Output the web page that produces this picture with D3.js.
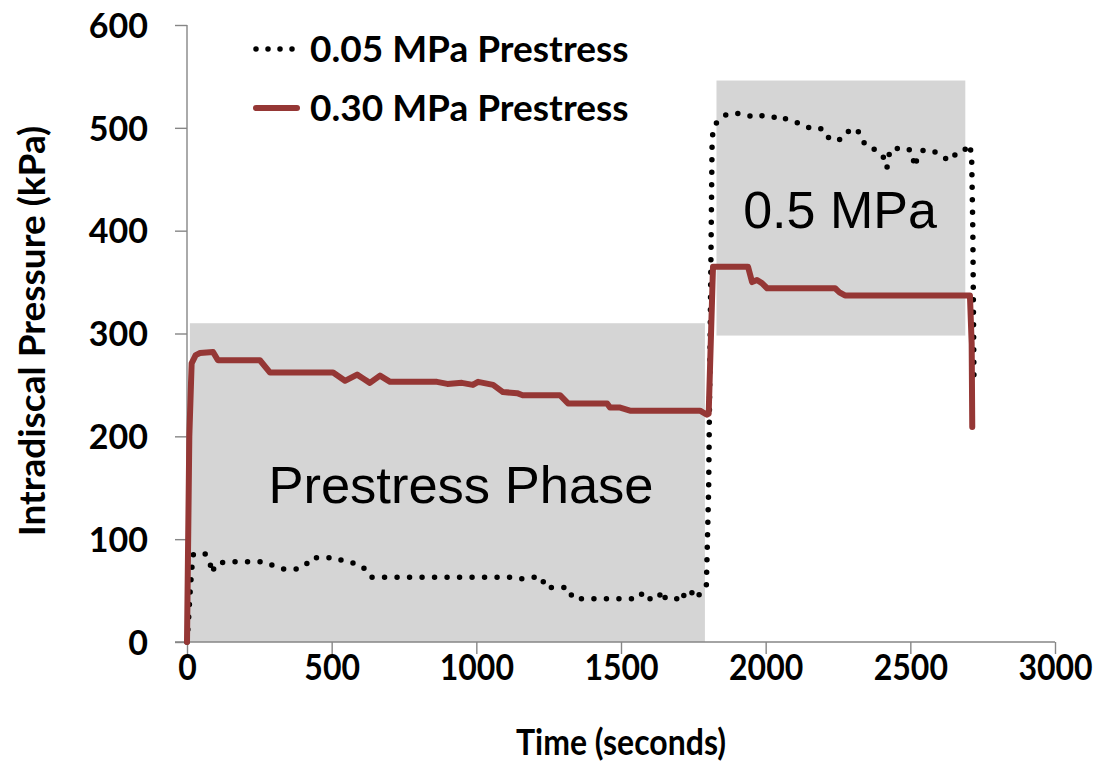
<!DOCTYPE html>
<html>
<head>
<meta charset="utf-8">
<script src="https://cdn.jsdelivr.net/npm/d3@7"></script>
<style>
  body { margin: 0; background: #fff; }
  .tickLabel, .axisTitle, .legendText { font-family: Lato, "Open Sans", sans-serif; font-weight: bold; fill: #000; }
  .phaseText { font-family: "Liberation Sans", Arial, sans-serif; fill: #000; }
</style>
</head>
<body>
<div id="chartContainer"></div>
<script>
// 0.05 MPa prestress run (time in s, pressure in kPa)
var time005 = [0, 5, 10, 16, 22, 28, 62, 79, 86, 100, 138, 270, 301, 332, 377, 408, 429, 515, 546, 591, 615, 636,
  1113, 1147, 1182, 1227, 1237, 1317, 1334, 1560, 1575, 1590, 1630, 1640, 1655, 1700, 1710, 1725, 1745, 1760, 1780,
  1795, 1803, 1810, 1815, 1825, 1846, 1873, 1918, 1953, 1970, 1991, 2025, 2050, 2067, 2091, 2126, 2157, 2198, 2215,
  2236, 2271, 2292, 2316, 2330, 2344, 2371, 2399, 2412, 2419, 2430, 2457, 2492, 2509, 2513, 2523, 2544, 2578, 2603,
  2637, 2661, 2682, 2706, 2712, 2716, 2720];
var kpa005 = [0, 20, 45, 70, 85, 86, 86, 78, 67, 76, 78, 78, 74, 71, 71, 74, 82, 82, 78, 76, 71, 63,
  63, 61, 63, 63, 53, 53, 42, 42, 48, 42, 42, 50, 42, 42, 48, 42, 48, 42, 50,
  55, 150, 350, 491, 503, 510, 514, 514, 511, 510, 512, 510, 512, 509, 506, 504, 499, 499, 491,
  487, 490, 499, 498, 492, 483, 480, 475, 469, 461, 479, 480, 480, 475, 462, 469, 478, 478, 473,
  468, 476, 477, 484, 470, 400, 252];

// 0.30 MPa prestress run
var time030 = [0, 8, 16, 30, 45, 90, 107, 252, 287, 505, 546, 588, 610, 632, 667, 702, 864, 900, 950, 988, 1006,
  1058, 1092, 1141, 1160, 1289, 1317, 1452, 1462, 1497, 1531, 1773, 1797, 1803, 1818, 1939, 1953, 1970, 1987, 2005,
  2240, 2255, 2274, 2706, 2712, 2714];
var kpa030 = [0, 200, 271, 279, 281, 282, 274, 274, 262, 262, 254, 260, 256, 252, 259, 253, 253, 251, 252, 250, 253,
  250, 243, 242, 240, 240, 232, 232, 228, 228, 225, 225, 221, 222, 365, 365, 350, 352, 349, 344,
  344, 340, 337, 337, 290, 209];

var seriesNames = ["0.05 MPa Prestress", "0.30 MPa Prestress"];

// shaded loading phases
var phaseNames = ["Prestress Phase", "0.5 MPa"];
var phaseStart = [10, 1830];
var phaseEnd = [1790, 2690];
var phaseLow = [0, 298];
var phaseHigh = [310, 546];

var xTicks = [0, 500, 1000, 1500, 2000, 2500, 3000];
var yTicks = [0, 100, 200, 300, 400, 500, 600];

var width = 1096, height = 765;
var axisColor = "#868686";
var redColor = "#953735";

var svg = d3.select("#chartContainer").append("svg")
  .attr("width", width).attr("height", height);

var x = d3.scaleLinear().domain([0, 3000]).range([187, 1055]);
var y = d3.scaleLinear().domain([0, 600]).range([642, 25]);

// gray phase boxes
svg.append("g").selectAll("rect").data(phaseNames).enter().append("rect")
  .attr("x", function(d, i) { return x(phaseStart[i]); })
  .attr("y", function(d, i) { return y(phaseHigh[i]); })
  .attr("width", function(d, i) { return x(phaseEnd[i]) - x(phaseStart[i]); })
  .attr("height", function(d, i) { return y(phaseLow[i]) - y(phaseHigh[i]); })
  .attr("fill", "#d5d5d5");

// phase labels
svg.append("text").attr("class", "phaseText")
  .attr("x", x(947)).attr("y", y(135))
  .attr("text-anchor", "middle").attr("font-size", "52.5px")
  .text(phaseNames[0]);
svg.append("text").attr("class", "phaseText")
  .attr("x", x(2257)).attr("y", y(403))
  .attr("text-anchor", "middle").attr("font-size", "52px")
  .text(phaseNames[1]);

// axes
var xAxis = d3.axisBottom(x).tickValues(xTicks).tickSize(12).tickFormat(d3.format("d"));
var yAxis = d3.axisLeft(y).tickValues(yTicks).tickSize(12).tickFormat(d3.format("d"));

var gx = svg.append("g").attr("transform", "translate(0," + y(0) + ")").call(xAxis);
var gy = svg.append("g").attr("transform", "translate(" + x(0) + ",0)").call(yAxis);

[gx, gy].forEach(function(g) {
  g.select(".domain").attr("stroke", axisColor).attr("stroke-width", 1.4);
  g.selectAll(".tick line").attr("stroke", axisColor).attr("stroke-width", 1.4);
  g.selectAll(".tick text").attr("class", "tickLabel");
});
gx.selectAll(".tick text").attr("y", 0).attr("dy", 0)
  .attr("transform", "translate(0,38) scale(1,1.15)")
  .attr("font-size", "32px");
gy.selectAll(".tick text").attr("x", -39).attr("dy", "0.36em").attr("font-size", "34px");
// plain axis lines, no outer caps
gy.select(".domain").attr("d", "M0," + y(600) + "V" + y(0));
gx.select(".domain").attr("d", "M" + (x(0) - 12) + ",0H" + x(3000));

// axis titles
svg.append("text").attr("class", "axisTitle")
  .attr("transform", "translate(621,755) scale(1,1.12)")
  .attr("text-anchor", "middle").attr("font-size", "32px")
  .text("Time (seconds)");
svg.append("text").attr("class", "axisTitle")
  .attr("transform", "translate(45,331) rotate(-90)")
  .attr("text-anchor", "middle").attr("font-size", "37px")
  .text("Intradiscal Pressure (kPa)");

// lines
var line = d3.line()
  .x(function(d) { return x(d[0]); })
  .y(function(d) { return y(d[1]); });

svg.append("path")
  .datum(d3.zip(time005, kpa005))
  .attr("d", line)
  .attr("fill", "none").attr("stroke", "#000")
  .attr("stroke-width", 5.5).attr("stroke-linecap", "round")
  .attr("stroke-dasharray", "0 12.5");

svg.append("path")
  .datum(d3.zip(time030, kpa030))
  .attr("d", line)
  .attr("fill", "none").attr("stroke", redColor)
  .attr("stroke-width", 6).attr("stroke-linejoin", "round").attr("stroke-linecap", "round");

// legend
var legend = svg.append("g");
legend.append("line")
  .attr("x1", 256).attr("x2", 293).attr("y1", 49).attr("y2", 49)
  .attr("stroke", "#000").attr("stroke-width", 5.5).attr("stroke-linecap", "round")
  .attr("stroke-dasharray", "0 12");
legend.append("line")
  .attr("x1", 256).attr("x2", 297).attr("y1", 108).attr("y2", 108)
  .attr("stroke", redColor).attr("stroke-width", 6).attr("stroke-linecap", "round");
legend.selectAll("text").data(seriesNames).enter().append("text")
  .attr("class", "legendText")
  .attr("x", 310).attr("y", function(d, i) { return 49 + i * 59; })
  .attr("dy", "0.36em").attr("font-size", "37px")
  .text(function(d) { return d; });
</script>
</body>
</html>
